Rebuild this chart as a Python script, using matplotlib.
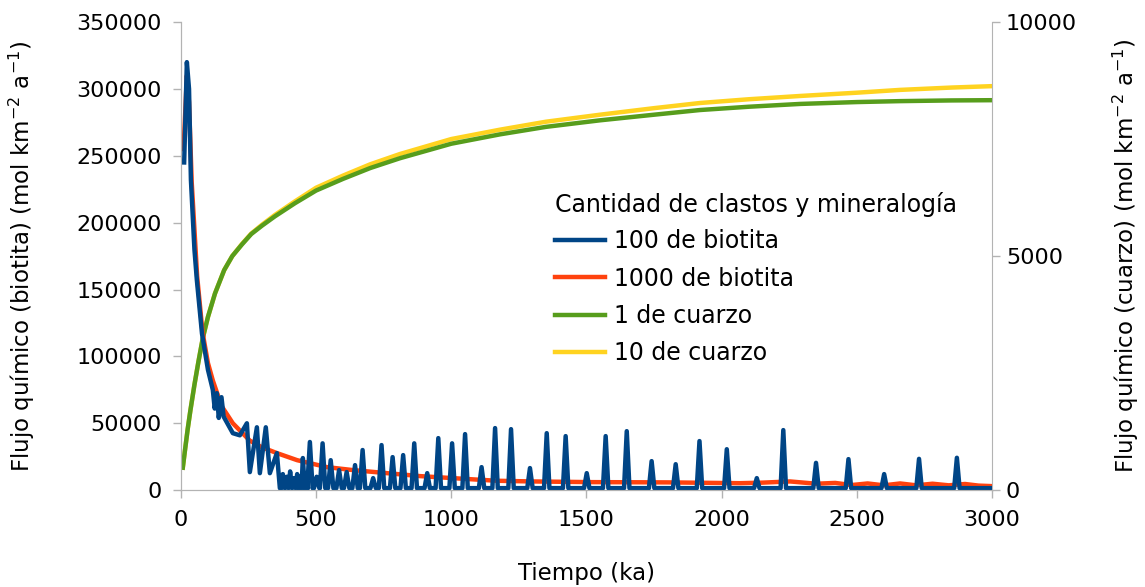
import numpy as np
import matplotlib.pyplot as plt

# 100 de biotita: early part read point by point
bio100_t = [12, 22, 30, 37, 50, 59, 78, 100, 118, 125, 133, 140, 150, 158, 192, 218, 244,
            255, 281, 292, 314, 329, 355, 366, 372, 377, 385, 392, 398, 404, 411, 418, 424,
            430, 436, 442, 446, 451, 458, 465, 470]
bio100_v = [245000, 320000, 300000, 232000, 180000, 157000, 117000, 90000, 75000, 61000, 72500,
            54000, 69500, 55000, 42600, 41000, 50000, 13500, 47000, 12700, 47000, 12700, 27700,
            1500, 1500, 12000, 1500, 10000, 1500, 14000, 1500, 9000, 1500, 12000, 1500, 10000,
            1500, 24000, 1500, 8000, 1500]

# later narrow pulses of 100 de biotita (peak time, peak value)
spike_t = [477, 502, 524, 554, 585, 613, 644, 672, 711, 742, 783, 822, 863, 911, 952, 1003,
           1051, 1112, 1162, 1221, 1291, 1353, 1423, 1501, 1571, 1649, 1741, 1830, 1918, 2019,
           2130, 2228, 2349, 2469, 2601, 2730, 2870]
spike_v = [36000, 10000, 35000, 22400, 15000, 13500, 18700, 30000, 9000, 33700, 24700, 26200,
           35000, 12700, 38900, 35000, 41900, 17200, 46400, 45600, 16500, 42600, 40400, 12700,
           40400, 44100, 21700, 19400, 36700, 30600, 9000, 44900, 20400, 23200, 12000, 23400,
           24200]
spike_base = 1500

# 1000 de biotita
bio1000_t = [10, 22, 30, 40, 60, 80, 100, 118, 150, 192, 255, 300, 355, 430, 540, 636, 762,
             884, 1069, 1170, 1300, 1513, 1800, 2068, 2150, 2253, 2350, 2420, 2480, 2540,
             2600, 2660, 2720, 2780, 2840, 2900, 2950, 3000]
bio1000_v = [255000, 310000, 290000, 230000, 160000, 118000, 95000, 82000, 63000, 50000, 37000,
             32000, 27700, 22400, 17200, 15000, 12700, 10500, 8200, 7000, 6500, 6000, 5800,
             5200, 5600, 6500, 4800, 5400, 3800, 5000, 3600, 5000, 3600, 4800, 3600, 4600,
             3400, 3000]

# cuarzo (right axis)
cz_t = [7, 15, 25, 35, 50, 65, 81, 100, 126, 160, 190, 226, 260, 300, 348, 422, 500, 600,
        700, 810, 1000, 1180, 1350, 1550, 1750, 1920, 2100, 2290, 2500, 2660, 2850, 3000]
cz1_v = [480, 850, 1300, 1700, 2250, 2750, 3250, 3700, 4200, 4700, 5000, 5250, 5470, 5650,
         5850, 6130, 6400, 6650, 6880, 7090, 7400, 7600, 7760, 7900, 8020, 8120, 8190, 8250,
         8290, 8310, 8325, 8330]
cz10_v = [480, 850, 1300, 1700, 2250, 2750, 3250, 3700, 4200, 4700, 5000, 5260, 5480, 5670,
          5880, 6170, 6460, 6720, 6960, 7180, 7500, 7700, 7870, 8020, 8160, 8270, 8350, 8420,
          8490, 8550, 8600, 8630]

c_blue = '#004586'
c_red = '#ff420e'
c_green = '#579d1c'
c_yellow = '#ffd320'
c_axis = '#b3b3b3'

# pulses: base -> peak -> base
t_pulse, v_pulse = [], []
for t, v in zip(spike_t, spike_v):
    t_pulse += [t - 10, t, t + 10]
    v_pulse += [spike_base, v, spike_base]
bio100_t_all = bio100_t + t_pulse + [3000]
bio100_v_all = bio100_v + v_pulse + [spike_base]

plt.rcParams['font.family'] = 'DejaVu Sans'
fig = plt.figure(figsize=(11.45, 5.87), dpi=100)
ax = fig.add_axes([0.158, 0.165, 0.7084, 0.7975])
ax2 = ax.twinx()

l4, = ax2.plot(cz_t, cz10_v, color=c_yellow, lw=3.2, label='10 de cuarzo')
l3, = ax2.plot(cz_t, cz1_v, color=c_green, lw=3.2, label='1 de cuarzo')
l2, = ax.plot(bio1000_t, bio1000_v, color=c_red, lw=3.2, label='1000 de biotita')
l1, = ax.plot(bio100_t_all, bio100_v_all, color=c_blue, lw=3.2, label='100 de biotita')

ax.set_zorder(ax2.get_zorder() + 1)
ax.patch.set_visible(False)

ax.set_xlim(0, 3000)
ax.set_ylim(0, 350000)
ax2.set_ylim(0, 10000)
ax.set_xticks(np.arange(0, 3001, 500))
ax.set_yticks(np.arange(0, 350001, 50000))
ax2.set_yticks([0, 5000, 10000])

for a in (ax, ax2):
    for s in a.spines.values():
        s.set_color(c_axis)
    a.spines['top'].set_visible(False)
    a.tick_params(colors=c_axis, labelcolor='black', labelsize=16, length=6, width=1)
ax.spines['right'].set_visible(False)
ax.tick_params(axis='y', pad=8)
ax.tick_params(axis='x', pad=8)
ax2.tick_params(axis='y', pad=4)

ax.set_xlabel('Tiempo (ka)', fontsize=16.5, labelpad=23)
ax.set_ylabel('Flujo químico (biotita) (mol km$^{-2}$ a$^{-1}$)', fontsize=16.5, labelpad=28)
ax2.set_ylabel('Flujo químico (cuarzo) (mol km$^{-2}$ a$^{-1}$)', fontsize=16.5, labelpad=24)

leg = ax.legend(handles=[l1, l2, l3, l4], title='Cantidad de clastos y mineralogía',
                loc='upper left', bbox_to_anchor=(555 / 1145, 1 - 192 / 587),
                bbox_transform=fig.transFigure, frameon=False, borderpad=0,
                borderaxespad=0, fontsize=17, title_fontsize=17, handlelength=2.1,
                handletextpad=0.42, labelspacing=0.56, alignment='left')
leg._legend_box.sep = 9

fig.savefig('out.png', dpi=100)
